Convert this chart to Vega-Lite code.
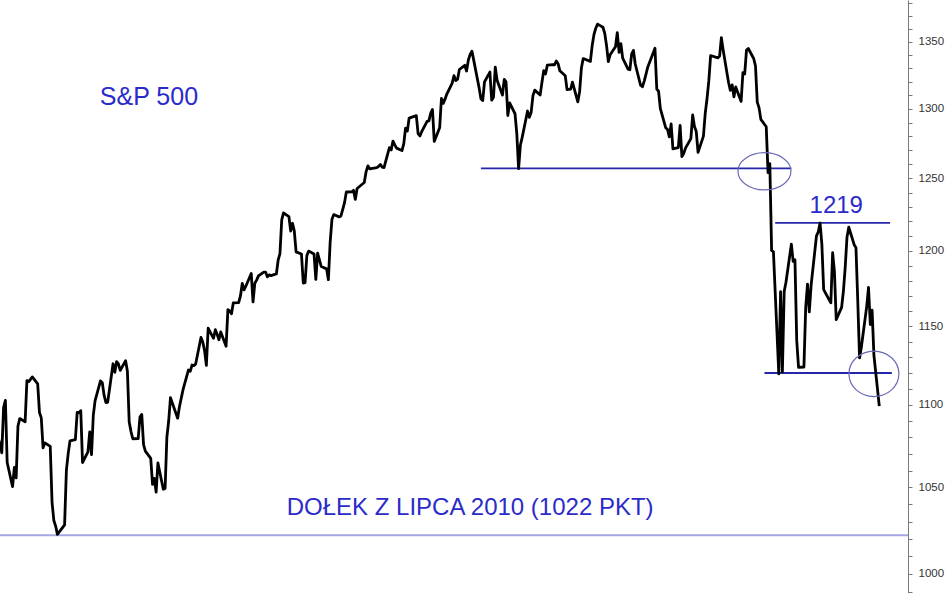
{
"$schema":"https://vega.github.io/schema/vega-lite/v6.json",
"width":948,"height":593,"padding":0,"autosize":{"type":"none"},
"background":"white",
"config":{"view":{"stroke":null}},
"datasets":{
"sp":[
{"date":"2010-05-28","value":1089.41},{"date":"2010-06-01","value":1070.71},{"date":"2010-06-02","value":1098.38},{"date":"2010-06-03","value":1102.83},{"date":"2010-06-04","value":1064.88},{"date":"2010-06-07","value":1050.47},{"date":"2010-06-08","value":1062.00},{"date":"2010-06-09","value":1055.69},{"date":"2010-06-10","value":1086.84},{"date":"2010-06-11","value":1091.60},{"date":"2010-06-14","value":1089.63},{"date":"2010-06-15","value":1115.23},{"date":"2010-06-16","value":1114.61},{"date":"2010-06-17","value":1116.04},{"date":"2010-06-18","value":1117.51},{"date":"2010-06-21","value":1113.20},{"date":"2010-06-22","value":1095.31},{"date":"2010-06-23","value":1092.04},{"date":"2010-06-24","value":1073.69},{"date":"2010-06-25","value":1076.76},{"date":"2010-06-28","value":1074.57},{"date":"2010-06-29","value":1041.24},{"date":"2010-06-30","value":1030.71},
{"date":"2010-07-01","value":1027.37},{"date":"2010-07-02","value":1022.58},{"date":"2010-07-06","value":1028.06},{"date":"2010-07-07","value":1060.27},{"date":"2010-07-08","value":1070.25},{"date":"2010-07-09","value":1077.96},{"date":"2010-07-12","value":1078.75},{"date":"2010-07-13","value":1095.34},{"date":"2010-07-14","value":1095.17},{"date":"2010-07-15","value":1096.48},{"date":"2010-07-16","value":1064.88},{"date":"2010-07-19","value":1071.25},{"date":"2010-07-20","value":1083.48},{"date":"2010-07-21","value":1069.59},{"date":"2010-07-22","value":1093.67},{"date":"2010-07-23","value":1102.66},{"date":"2010-07-26","value":1115.01},{"date":"2010-07-27","value":1113.84},{"date":"2010-07-28","value":1106.13},{"date":"2010-07-29","value":1101.53},{"date":"2010-07-30","value":1101.60},
{"date":"2010-08-02","value":1125.86},{"date":"2010-08-03","value":1120.46},{"date":"2010-08-04","value":1127.24},{"date":"2010-08-05","value":1125.81},{"date":"2010-08-06","value":1121.64},{"date":"2010-08-09","value":1127.79},{"date":"2010-08-10","value":1121.06},{"date":"2010-08-11","value":1089.47},{"date":"2010-08-12","value":1083.61},{"date":"2010-08-13","value":1079.25},{"date":"2010-08-16","value":1079.38},{"date":"2010-08-17","value":1092.54},{"date":"2010-08-18","value":1094.16},{"date":"2010-08-19","value":1075.63},{"date":"2010-08-20","value":1071.69},{"date":"2010-08-23","value":1067.36},{"date":"2010-08-24","value":1051.87},{"date":"2010-08-25","value":1055.33},{"date":"2010-08-26","value":1047.22},{"date":"2010-08-27","value":1064.59},{"date":"2010-08-30","value":1048.92},{"date":"2010-08-31","value":1049.33},
{"date":"2010-09-01","value":1080.29},{"date":"2010-09-02","value":1090.10},{"date":"2010-09-03","value":1104.51},{"date":"2010-09-07","value":1091.84},{"date":"2010-09-08","value":1098.87},{"date":"2010-09-09","value":1104.18},{"date":"2010-09-10","value":1109.55},{"date":"2010-09-13","value":1121.90},{"date":"2010-09-14","value":1121.10},{"date":"2010-09-15","value":1125.07},{"date":"2010-09-16","value":1124.66},{"date":"2010-09-17","value":1125.59},{"date":"2010-09-20","value":1142.71},{"date":"2010-09-21","value":1139.78},{"date":"2010-09-22","value":1134.28},{"date":"2010-09-23","value":1124.83},{"date":"2010-09-24","value":1148.67},{"date":"2010-09-27","value":1142.16},{"date":"2010-09-28","value":1147.70},{"date":"2010-09-29","value":1144.73},{"date":"2010-09-30","value":1141.20},
{"date":"2010-10-01","value":1146.24},{"date":"2010-10-04","value":1137.03},{"date":"2010-10-05","value":1160.75},{"date":"2010-10-06","value":1159.97},{"date":"2010-10-07","value":1158.06},{"date":"2010-10-08","value":1165.15},{"date":"2010-10-11","value":1165.32},{"date":"2010-10-12","value":1169.77},{"date":"2010-10-13","value":1178.10},{"date":"2010-10-14","value":1173.81},{"date":"2010-10-15","value":1176.19},{"date":"2010-10-18","value":1184.71},{"date":"2010-10-19","value":1165.90},{"date":"2010-10-20","value":1178.17},{"date":"2010-10-21","value":1180.26},{"date":"2010-10-22","value":1183.08},{"date":"2010-10-25","value":1185.62},{"date":"2010-10-26","value":1185.64},{"date":"2010-10-27","value":1182.45},{"date":"2010-10-28","value":1183.78},{"date":"2010-10-29","value":1183.26},
{"date":"2010-11-01","value":1184.38},{"date":"2010-11-02","value":1193.57},{"date":"2010-11-03","value":1197.96},{"date":"2010-11-04","value":1221.06},{"date":"2010-11-05","value":1225.85},{"date":"2010-11-08","value":1223.25},{"date":"2010-11-09","value":1213.40},{"date":"2010-11-10","value":1218.71},{"date":"2010-11-11","value":1213.54},{"date":"2010-11-12","value":1199.21},{"date":"2010-11-15","value":1197.75},{"date":"2010-11-16","value":1178.34},{"date":"2010-11-17","value":1178.59},{"date":"2010-11-18","value":1196.69},{"date":"2010-11-19","value":1199.73},{"date":"2010-11-22","value":1197.84},{"date":"2010-11-23","value":1180.73},{"date":"2010-11-24","value":1198.35},{"date":"2010-11-26","value":1189.40},{"date":"2010-11-29","value":1187.76},{"date":"2010-11-30","value":1180.55},
{"date":"2010-12-01","value":1206.07},{"date":"2010-12-02","value":1221.53},{"date":"2010-12-03","value":1224.71},{"date":"2010-12-06","value":1223.12},{"date":"2010-12-07","value":1223.75},{"date":"2010-12-08","value":1228.28},{"date":"2010-12-09","value":1233.00},{"date":"2010-12-10","value":1240.40},{"date":"2010-12-13","value":1240.46},{"date":"2010-12-14","value":1241.59},{"date":"2010-12-15","value":1235.23},{"date":"2010-12-16","value":1242.87},{"date":"2010-12-17","value":1243.91},{"date":"2010-12-20","value":1247.08},{"date":"2010-12-21","value":1254.60},{"date":"2010-12-22","value":1258.84},{"date":"2010-12-23","value":1256.77},{"date":"2010-12-27","value":1257.54},{"date":"2010-12-28","value":1258.51},{"date":"2010-12-29","value":1259.78},{"date":"2010-12-30","value":1257.88},{"date":"2010-12-31","value":1257.64},
{"date":"2011-01-03","value":1271.87},{"date":"2011-01-04","value":1270.20},{"date":"2011-01-05","value":1276.56},{"date":"2011-01-06","value":1273.85},{"date":"2011-01-07","value":1271.50},{"date":"2011-01-10","value":1269.75},{"date":"2011-01-11","value":1274.48},{"date":"2011-01-12","value":1285.96},{"date":"2011-01-13","value":1283.76},{"date":"2011-01-14","value":1293.24},{"date":"2011-01-18","value":1295.02},{"date":"2011-01-19","value":1281.92},{"date":"2011-01-20","value":1280.26},{"date":"2011-01-21","value":1283.35},{"date":"2011-01-24","value":1290.84},{"date":"2011-01-25","value":1291.18},{"date":"2011-01-26","value":1296.63},{"date":"2011-01-27","value":1299.54},{"date":"2011-01-28","value":1276.34},{"date":"2011-01-31","value":1286.12},
{"date":"2011-02-01","value":1307.59},{"date":"2011-02-02","value":1304.03},{"date":"2011-02-03","value":1307.10},{"date":"2011-02-04","value":1310.87},{"date":"2011-02-07","value":1319.05},{"date":"2011-02-08","value":1324.57},{"date":"2011-02-09","value":1320.88},{"date":"2011-02-10","value":1321.87},{"date":"2011-02-11","value":1329.15},{"date":"2011-02-14","value":1332.32},{"date":"2011-02-15","value":1328.01},{"date":"2011-02-16","value":1336.32},{"date":"2011-02-17","value":1340.43},{"date":"2011-02-18","value":1343.01},{"date":"2011-02-22","value":1315.44},{"date":"2011-02-23","value":1307.40},{"date":"2011-02-24","value":1306.10},{"date":"2011-02-25","value":1319.88},{"date":"2011-02-28","value":1327.22},
{"date":"2011-03-01","value":1306.33},{"date":"2011-03-02","value":1308.44},{"date":"2011-03-03","value":1330.97},{"date":"2011-03-04","value":1321.15},{"date":"2011-03-07","value":1310.13},{"date":"2011-03-08","value":1321.82},{"date":"2011-03-09","value":1320.02},{"date":"2011-03-10","value":1295.11},{"date":"2011-03-11","value":1304.28},{"date":"2011-03-14","value":1296.39},{"date":"2011-03-15","value":1281.87},{"date":"2011-03-16","value":1256.88},{"date":"2011-03-17","value":1273.72},{"date":"2011-03-18","value":1279.21},{"date":"2011-03-21","value":1298.38},{"date":"2011-03-22","value":1293.77},{"date":"2011-03-23","value":1297.54},{"date":"2011-03-24","value":1309.66},{"date":"2011-03-25","value":1313.80},{"date":"2011-03-28","value":1310.19},{"date":"2011-03-29","value":1319.44},{"date":"2011-03-30","value":1328.26},{"date":"2011-03-31","value":1325.83},
{"date":"2011-04-01","value":1332.41},{"date":"2011-04-04","value":1332.87},{"date":"2011-04-05","value":1332.63},{"date":"2011-04-06","value":1335.54},{"date":"2011-04-07","value":1333.51},{"date":"2011-04-08","value":1328.17},{"date":"2011-04-11","value":1324.46},{"date":"2011-04-12","value":1314.16},{"date":"2011-04-13","value":1314.41},{"date":"2011-04-14","value":1314.52},{"date":"2011-04-15","value":1319.68},{"date":"2011-04-18","value":1305.14},{"date":"2011-04-19","value":1312.62},{"date":"2011-04-20","value":1330.36},{"date":"2011-04-21","value":1337.38},{"date":"2011-04-25","value":1335.25},{"date":"2011-04-26","value":1347.24},{"date":"2011-04-27","value":1355.66},{"date":"2011-04-28","value":1360.48},{"date":"2011-04-29","value":1363.61},
{"date":"2011-05-02","value":1361.22},{"date":"2011-05-03","value":1356.62},{"date":"2011-05-04","value":1347.32},{"date":"2011-05-05","value":1335.10},{"date":"2011-05-06","value":1340.20},{"date":"2011-05-09","value":1346.29},{"date":"2011-05-10","value":1357.16},{"date":"2011-05-11","value":1342.08},{"date":"2011-05-12","value":1348.65},{"date":"2011-05-13","value":1337.77},{"date":"2011-05-16","value":1329.47},{"date":"2011-05-17","value":1328.98},{"date":"2011-05-18","value":1340.68},{"date":"2011-05-19","value":1343.60},{"date":"2011-05-20","value":1333.27},{"date":"2011-05-23","value":1317.37},{"date":"2011-05-24","value":1316.28},{"date":"2011-05-25","value":1320.47},{"date":"2011-05-26","value":1325.69},{"date":"2011-05-27","value":1331.10},{"date":"2011-05-31","value":1345.20},
{"date":"2011-06-01","value":1314.55},{"date":"2011-06-02","value":1312.94},{"date":"2011-06-03","value":1300.16},{"date":"2011-06-06","value":1286.17},{"date":"2011-06-07","value":1284.94},{"date":"2011-06-08","value":1279.56},{"date":"2011-06-09","value":1289.00},{"date":"2011-06-10","value":1270.98},{"date":"2011-06-13","value":1271.83},{"date":"2011-06-14","value":1287.87},{"date":"2011-06-15","value":1265.42},{"date":"2011-06-16","value":1267.64},{"date":"2011-06-17","value":1271.50},{"date":"2011-06-20","value":1278.36},{"date":"2011-06-21","value":1295.52},{"date":"2011-06-22","value":1287.14},{"date":"2011-06-23","value":1283.50},{"date":"2011-06-24","value":1268.45},{"date":"2011-06-27","value":1280.10},{"date":"2011-06-28","value":1296.67},{"date":"2011-06-29","value":1307.41},{"date":"2011-06-30","value":1320.64},
{"date":"2011-07-01","value":1339.67},{"date":"2011-07-05","value":1337.88},{"date":"2011-07-06","value":1339.22},{"date":"2011-07-07","value":1353.22},{"date":"2011-07-08","value":1343.80},{"date":"2011-07-11","value":1319.49},{"date":"2011-07-12","value":1313.64},{"date":"2011-07-13","value":1317.72},{"date":"2011-07-14","value":1308.87},{"date":"2011-07-15","value":1316.14},{"date":"2011-07-18","value":1305.44},{"date":"2011-07-19","value":1326.73},{"date":"2011-07-20","value":1325.84},{"date":"2011-07-21","value":1343.80},{"date":"2011-07-22","value":1345.02},{"date":"2011-07-25","value":1337.43},{"date":"2011-07-26","value":1331.94},{"date":"2011-07-27","value":1304.89},{"date":"2011-07-28","value":1300.67},{"date":"2011-07-29","value":1292.28},
{"date":"2011-08-01","value":1286.94},{"date":"2011-08-02","value":1254.05},{"date":"2011-08-03","value":1260.34},{"date":"2011-08-04","value":1200.07},{"date":"2011-08-05","value":1199.38},{"date":"2011-08-08","value":1119.46},{"date":"2011-08-09","value":1172.53},{"date":"2011-08-10","value":1120.76},{"date":"2011-08-11","value":1172.64},{"date":"2011-08-12","value":1178.81},{"date":"2011-08-15","value":1204.49},{"date":"2011-08-16","value":1192.76},{"date":"2011-08-17","value":1193.89},{"date":"2011-08-18","value":1140.65},{"date":"2011-08-19","value":1123.53},{"date":"2011-08-22","value":1123.82},{"date":"2011-08-23","value":1162.35},{"date":"2011-08-24","value":1177.60},{"date":"2011-08-25","value":1159.27},{"date":"2011-08-26","value":1176.80},{"date":"2011-08-29","value":1210.08},{"date":"2011-08-30","value":1212.92},{"date":"2011-08-31","value":1218.89},
{"date":"2011-09-01","value":1204.42},{"date":"2011-09-02","value":1173.97},{"date":"2011-09-06","value":1165.24},{"date":"2011-09-07","value":1198.62},{"date":"2011-09-08","value":1185.90},{"date":"2011-09-09","value":1154.23},{"date":"2011-09-12","value":1162.27},{"date":"2011-09-13","value":1172.87},{"date":"2011-09-14","value":1188.68},{"date":"2011-09-15","value":1209.11},{"date":"2011-09-16","value":1216.01},{"date":"2011-09-19","value":1204.09},{"date":"2011-09-20","value":1202.09},{"date":"2011-09-21","value":1166.76},{"date":"2011-09-22","value":1129.56},{"date":"2011-09-23","value":1136.43},{"date":"2011-09-26","value":1162.95},{"date":"2011-09-27","value":1175.38},{"date":"2011-09-28","value":1151.06},{"date":"2011-09-29","value":1160.40},{"date":"2011-09-30","value":1131.42},{"date":"2011-10-03","value":1099.23}
],
"levels":[
{"date":"2011-02-23","date2":"2011-08-15","value":1257},
{"date":"2011-08-06","date2":"2011-10-09","value":1219},
{"date":"2011-07-31","date2":"2011-10-10","value":1120}
]
},
"layer":[
{
"data":{"values":[{"date":"2010-05-31","date2":"2011-10-19","value":1022}]},
"mark":{"type":"rule","color":"#a6a6e2","strokeWidth":2},
"encoding":{
"x":{"field":"date","type":"temporal","scale":{"domain":[{"year":2010,"month":5,"date":31,"utc":true},{"year":2011,"month":10,"date":19,"utc":true}],"range":[0,908]},"axis":null},
"x2":{"field":"date2"},
"y":{"field":"value","type":"quantitative","scale":{"type":"log","domain":[989.3,1382.3],"nice":false}}}
},
{
"data":{"name":"levels"},
"mark":{"type":"rule","color":"#2626ab","strokeWidth":1.8},
"encoding":{
"x":{"field":"date","type":"temporal"},
"x2":{"field":"date2"},
"y":{"field":"value","type":"quantitative"}
}
},
{
"data":{"name":"sp"},
"mark":{"type":"line","color":"#000000","strokeWidth":2.8,"strokeJoin":"round","clip":true},
"encoding":{
"x":{"field":"date","type":"temporal"},
"y":{"field":"value","type":"quantitative",
"axis":{"orient":"right","offset":-40,"title":null,"grid":false,"values":[990,1000,1010,1020,1030,1040,1050,1060,1070,1080,1090,1100,1110,1120,1130,1140,1150,1160,1170,1180,1190,1200,1210,1220,1230,1240,1250,1260,1270,1280,1290,1300,1310,1320,1330,1340,1350,1360,1370,1380],
"labelExpr":"datum.value % 50 === 0 ? format(datum.value, 'd') : ''","labelFont":"Liberation Sans","labelFontSize":11.5,"labelColor":"#333333","tickSize":4,"labelPadding":6,"domainColor":"#7a7a7a","tickColor":"#7a7a7a","labelOverlap":false,"labelBound":false,"labelFlush":false}}
}
},
{
"data":{"values":[{"date":"2011-07-31","value":1255}]},
"mark":{"type":"point","filled":false,"stroke":"#6a6ab4","strokeWidth":1.2,"size":2809,"opacity":1,
"shape":"M-1,0C-1,-0.3866,-0.5523,-0.7,0,-0.7C0.5523,-0.7,1,-0.3866,1,0C1,0.3866,0.5523,0.7,0,0.7C-0.5523,0.7,-1,0.3866,-1,0Z"},
"encoding":{
"x":{"field":"date","type":"temporal"},
"y":{"field":"value","type":"quantitative"}
}
},
{
"data":{"values":[{"date":"2011-09-30","value":1119.5}]},
"mark":{"type":"point","filled":false,"stroke":"#6a6ab4","strokeWidth":1.2,"size":2500,"opacity":1,
"shape":"M-1,0C-1,-0.5026,-0.5523,-0.91,0,-0.91C0.5523,-0.91,1,-0.5026,1,0C1,0.5026,0.5523,0.91,0,0.91C-0.5523,0.91,-1,0.5026,-1,0Z"},
"encoding":{
"x":{"field":"date","type":"temporal"},
"y":{"field":"value","type":"quantitative"}
}
},
{
"data":{"values":[{"date":"2010-08-22","value":1303,"label":"S&P 500"}]},
"mark":{"type":"text","font":"Liberation Sans","fontSize":25,"color":"#2b2bc9","align":"center","baseline":"alphabetic"},
"encoding":{"x":{"field":"date","type":"temporal"},"y":{"field":"value","type":"quantitative"},"text":{"field":"label"}}
},
{
"data":{"values":[{"date":"2011-09-09","value":1225.8,"label":"1219"}]},
"mark":{"type":"text","font":"Liberation Sans","fontSize":24,"color":"#2b2bc9","align":"center","baseline":"alphabetic"},
"encoding":{"x":{"field":"date","type":"temporal"},"y":{"field":"value","type":"quantitative"},"text":{"field":"label"}}
},
{
"data":{"values":[{"date":"2011-02-17","value":1033.8,"label":"DOŁEK Z LIPCA 2010 (1022 PKT)"}]},
"mark":{"type":"text","font":"Liberation Sans","fontSize":24,"color":"#2b2bc9","align":"center","baseline":"alphabetic"},
"encoding":{"x":{"field":"date","type":"temporal"},"y":{"field":"value","type":"quantitative"},"text":{"field":"label"}}
}
]
}
